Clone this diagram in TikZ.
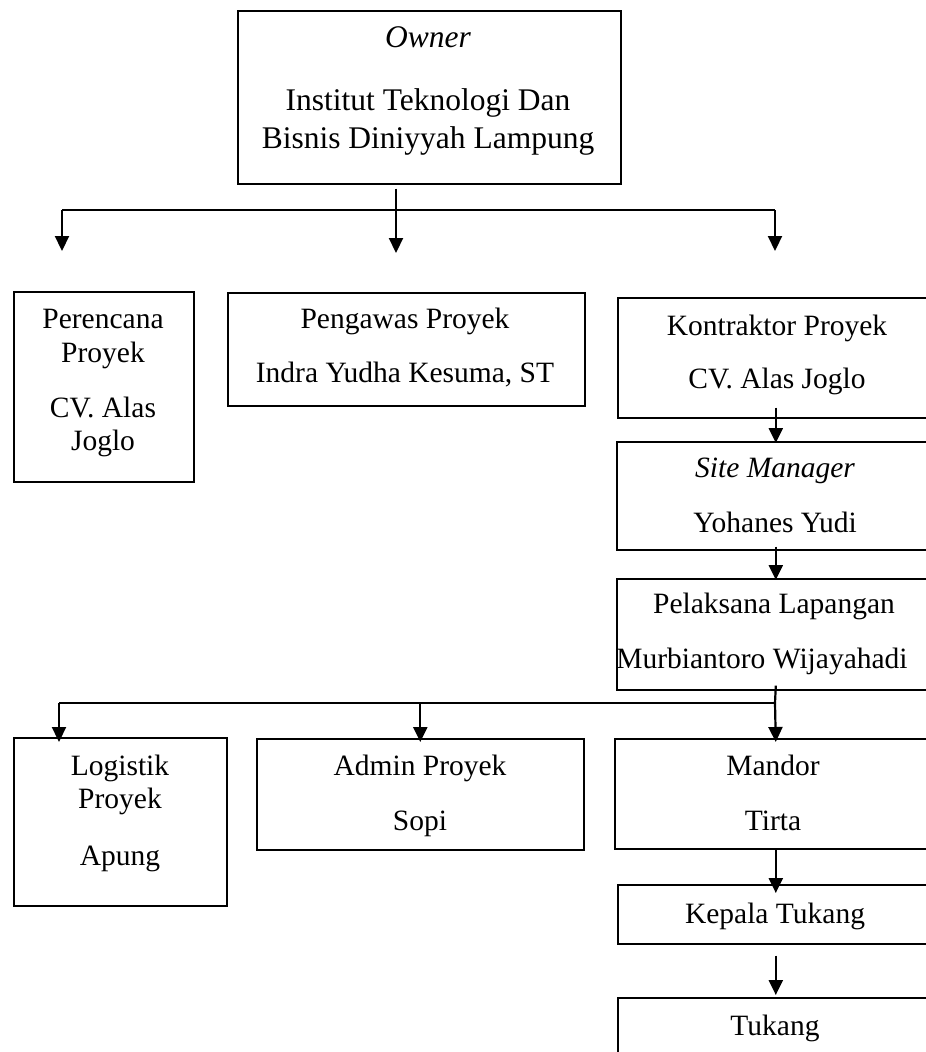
\documentclass[tikz,border=0pt]{standalone}
\usepackage{fontspec}
\setmainfont{Liberation Serif}
\usetikzlibrary{arrows.meta,calc}
\begin{document}
\begin{tikzpicture}[x=1pt,y=-1pt,
  box/.style={draw,line width=1.6pt,rectangle,inner sep=0pt,anchor=north west},
  txt/.style={anchor=base,inner sep=0pt,font=\fontsize{29.5}{34}\selectfont},
  otxt/.style={anchor=base,inner sep=0pt,font=\fontsize{31.5}{36}\selectfont},
  conn/.style={line width=2.2pt},
  arr/.style={line width=2.2pt,-{Triangle[length=15pt,width=14pt]}},
]
\useasboundingbox (0,0) rectangle (926,1052);
\clip (0,0) rectangle (926,1052);

% boxes
\node[box,minimum width=383pt,minimum height=173pt] (owner) at (237,10) {};
\node[box,minimum width=180pt,minimum height=190pt] (peren) at (13,291) {};
\node[box,minimum width=357pt,minimum height=113pt] (pengw) at (227,292) {};
\node[box,minimum width=316pt,minimum height=120pt] (kontr) at (617,297) {};
\node[box,minimum width=318pt,minimum height=108pt] (site) at (616,441) {};
\node[box,minimum width=318pt,minimum height=111pt] (pel) at (616,578) {};
\node[box,minimum width=213pt,minimum height=168pt] (logi) at (13,737) {};
\node[box,minimum width=327pt,minimum height=111pt] (admin) at (256,738) {};
\node[box,minimum width=322pt,minimum height=110pt] (mandor) at (614,738) {};
\node[box,minimum width=316pt,minimum height=59pt] (kepala) at (617,884) {};
\node[box,minimum width=316pt,minimum height=90pt] (tukang) at (617,997) {};

% texts
\node[otxt] (ownerA) at (428,47) {\itshape Owner};
\node[otxt] (ownerB) at (428,110) {Institut Teknologi Dan};
\node[otxt] (ownerC) at (428,148) {Bisnis Diniyyah Lampung};

\node[txt] (perenA) at (103,328) {Perencana};
\node[txt] (perenB) at (103,362) {Proyek};
\node[txt] (perenC) at (103,417) {CV. Alas};
\node[txt] (perenD) at (103,450) {Joglo};

\node[txt] (pengwA) at (405,328) {Pengawas Proyek};
\node[txt] (pengwB) at (405,382) {Indra Yudha Kesuma, ST};

\node[txt] (kontrA) at (777,335) {Kontraktor Proyek};
\node[txt] (kontrB) at (777,388) {CV. Alas Joglo};

\node[txt] (siteA) at (775,477) {\itshape Site Manager};
\node[txt] (siteB) at (775,532) {Yohanes Yudi};

\node[txt] (pelA) at (774,613) {Pelaksana Lapangan};
\node[txt] (pelB) at (762,668) {Murbiantoro Wijayahadi};

\node[txt] (logiA) at (120,775) {Logistik};
\node[txt] (logiB) at (120,808) {Proyek};
\node[txt] (logiC) at (120,865) {Apung};

\node[txt] (adminA) at (420,775) {Admin Proyek};
\node[txt] (adminB) at (420,830) {Sopi};

\node[txt] (mandorA) at (773,775) {Mandor};
\node[txt] (mandorB) at (773,830) {Tirta};

\node[txt] (kepalaA) at (775,923) {Kepala Tukang};
\node[txt] (tukangA) at (775,1035) {Tukang};

% connectors
\coordinate (barA) at (396,210);
\coordinate (tipL) at (62,251);
\coordinate (tipM) at (396,253);
\coordinate (tipR) at (775,251);
\draw[conn] ([yshift=-4pt]owner.south -| tipM) -- (barA);
\draw[conn] (barA -| tipL) -- (barA -| tipR);
\draw[arr] (barA -| tipL) -- (tipL);
\draw[arr] (barA) -- (tipM);
\draw[arr] (barA -| tipR) -- (tipR);

\draw[arr] ([yshift=11pt]kontr.south) -- ([yshift=-2pt]site.north);
\draw[arr] ([yshift=4pt]site.south) -- ([yshift=-2pt]pel.north);

\coordinate (barB) at (775,703);
\coordinate (tipLog) at (59,742);
\draw[conn] ([yshift=5pt]pel.south) -- (barB);
\draw[conn] (barB) -- (barB -| tipLog);
\draw[arr] (barB -| tipLog) -- (tipLog);
\draw[arr] (barB -| admin.north) -- ([yshift=-4pt]admin.north);
\draw[arr] (barB) -- ([yshift=-4pt]mandor.north);
\draw[arr] (mandor.south) -- ([yshift=-9pt]kepala.north);
\draw[arr] ([yshift=-11pt]kepala.south) -- ([yshift=2pt]tukang.north);
\end{tikzpicture}
\end{document}
